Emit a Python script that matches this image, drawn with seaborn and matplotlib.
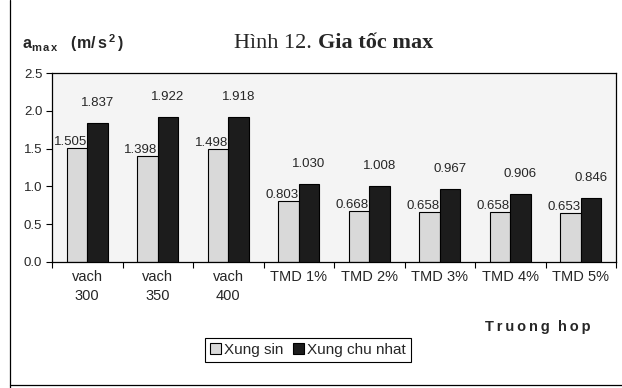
import matplotlib
matplotlib.use("Agg")
import matplotlib.pyplot as plt
import seaborn as sns
import pandas as pd
from matplotlib.lines import Line2D
from matplotlib.patches import Patch

categories = ["vach\n300", "vach\n350", "vach\n400", "TMD 1%", "TMD 2%", "TMD 3%", "TMD 4%", "TMD 5%"]
xung_sin = [1.505, 1.398, 1.498, 0.803, 0.668, 0.658, 0.658, 0.653]
xung_chu_nhat = [1.837, 1.922, 1.918, 1.030, 1.008, 0.967, 0.906, 0.846]
series_names = ["Xung sin", "Xung chu nhat"]
y_ticks = [0.0, 0.5, 1.0, 1.5, 2.0, 2.5]

df = pd.DataFrame({
    "case": categories * 2,
    "value": xung_sin + xung_chu_nhat,
    "series": [series_names[0]] * len(categories) + [series_names[1]] * len(categories),
})

sns.set_theme(style="white")
plt.rcParams["font.family"] = ["Liberation Sans", "DejaVu Sans"]
plt.rcParams["mathtext.fontset"] = "custom"
plt.rcParams["mathtext.bf"] = "Liberation Sans:bold"
plt.rcParams["mathtext.rm"] = "Liberation Sans"

W, H = 622, 388
fig = plt.figure(figsize=(W / 100, H / 100), dpi=100)
fig.patch.set_facecolor("white")
ax = fig.add_axes([52 / W, 1 - 262 / H, (616 - 52) / W, (262 - 73) / H])
ax.set_facecolor("#f4f4f4")

colors = ["#d9d9d9", "#1c1c1c"]
sns.barplot(data=df, x="case", y="value", hue="series", palette=colors,
            order=categories, hue_order=series_names, width=0.58, gap=0,
            edgecolor="black", linewidth=0.8, legend=False, ax=ax, saturation=1)

ax.set_xlim(-0.5, len(categories) - 0.5)
ax.set_ylim(0, 2.5)
ax.set_yticks(y_ticks)
ax.set_yticklabels([f"{t:.1f}" for t in y_ticks], fontsize=9.5)
ax.set_xticks(range(len(categories)))
ax.set_xticklabels(categories, fontsize=10.5, linespacing=1.45, va="top")
ax.set_xticks([i + 0.5 for i in range(-1, len(categories))], minor=True)
ax.tick_params(axis="x", which="major", length=0, pad=6)
ax.tick_params(axis="x", which="minor", length=4, width=0.8, direction="out", color="black", bottom=True)
ax.tick_params(axis="y", length=4, width=0.8, direction="out", color="black", left=True, pad=3)
ax.set_xlabel("")
ax.set_ylabel("")
for s in ax.spines.values():
    s.set_color("black")
    s.set_linewidth(0.9)

c_sin, c_rect = ax.containers[0], ax.containers[1]
for p in c_rect:
    p.set_zorder(3)
for p in c_sin:
    p.set_zorder(2)
for p, v in zip(c_sin, xung_sin):
    ax.annotate(f"{v:.3f}", (p.get_x() + p.get_width() / 2, v), xytext=(-5, 0),
                textcoords="offset points", ha="center", va="bottom", fontsize=9.5, zorder=2.5)
for p, v in zip(c_rect, xung_chu_nhat):
    ax.annotate(f"{v:.3f}", (p.get_x() + p.get_width() / 2, v), xytext=(0, 10),
                textcoords="offset points", ha="center", va="bottom", fontsize=9.5, zorder=4)

# titles
fig.text(312 / W, 1 - 43 / H, "Hình 12.", family="Liberation Serif", fontsize=16, ha="right", va="center")
fig.text(318 / W, 1 - 43 / H, "Gia tốc max", family="Liberation Serif", fontsize=16,
         fontweight="bold", ha="left", va="center")
fig.text(22 / W, 1 - 43 / H, r"$\mathbf{a}_{\mathbf{m\,a\,x}}$   $\mathbf{(m/\,s^{\,2}\,)}$", fontsize=11.5,
         ha="left", va="center")
fig.text(538 / W, 1 - 327 / H, "\u2009".join("Truong") + "  " + "\u2009".join("hop"), fontsize=10.5,
         fontweight="bold", ha="center", va="center")

handles = [Patch(facecolor=colors[0], edgecolor="black", linewidth=0.8),
           Patch(facecolor=colors[1], edgecolor="black", linewidth=0.8)]
leg = fig.legend(handles, series_names, loc="center", bbox_to_anchor=(308 / W, 1 - 350 / H), ncol=2,
                 fontsize=11, frameon=True, fancybox=False, edgecolor="black", framealpha=1,
                 handlelength=0.75, handleheight=0.75, handletextpad=0.2, columnspacing=0.6,
                 borderpad=0.3)
leg.get_frame().set_linewidth(0.8)

# outer frame
fig.add_artist(Line2D([10 / W, 10 / W], [0, 1], color="black", lw=0.9, transform=fig.transFigure))
fig.add_artist(Line2D([10 / W, 1], [1 - 385 / H, 1 - 385 / H], color="black", lw=0.9, transform=fig.transFigure))

fig.savefig("out.png", dpi=100)
